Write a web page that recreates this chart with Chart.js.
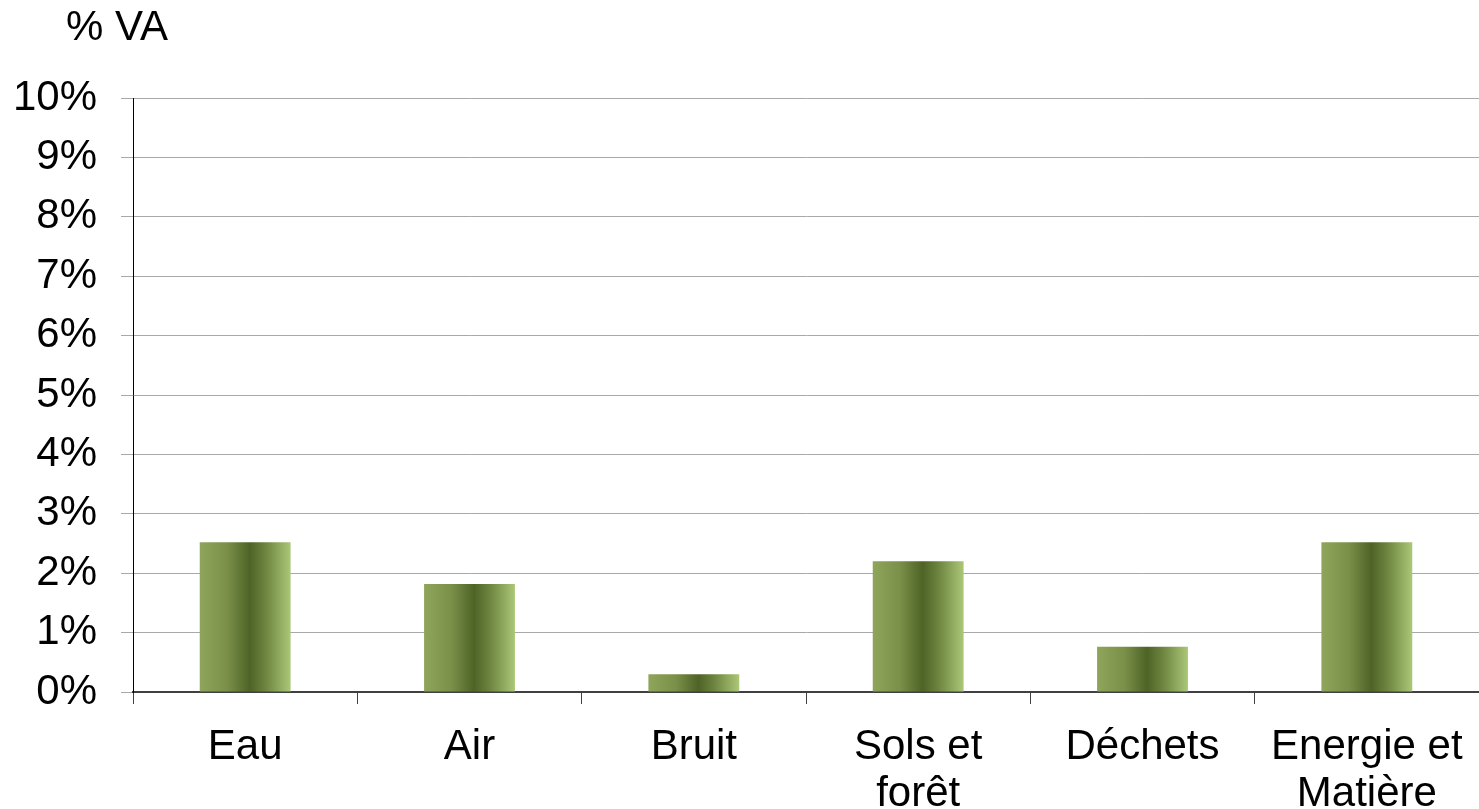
<!DOCTYPE html>
<html>
<head>
<meta charset="utf-8">
<script src="https://cdn.jsdelivr.net/npm/chart.js@4/dist/chart.umd.min.js"></script>
<style>
  html, body { margin: 0; padding: 0; background: #ffffff; }
  #wrap { width: 1479px; height: 809px; }
</style>
</head>
<body>
<div id="wrap"><canvas id="chart"></canvas></div>
<script>
// === DONNEES ===
const categories = ["Eau", "Air", "Bruit", ["Sols et", "forêt"], "Déchets", ["Energie et", "Matière"]];
const valeurs = [2.52, 1.82, 0.30, 2.20, 0.76, 2.52];
const yTicks = [0, 1, 2, 3, 4, 5, 6, 7, 8, 9, 10];
const uniteTitre = "% VA";

const FONT = "'Liberation Sans', Arial, sans-serif";
const BAR_PCT = 0.405;

// degrade horizontal pour chaque barre (clair - fonce - clair)
function barGradient(ctx) {
    const chart = ctx.chart;
    const xs = chart.scales.x;
    if (!xs || !chart.chartArea) return "#6f8640";
    const cx = xs.getPixelForValue(ctx.dataIndex);
    const half = (xs.width / categories.length) * BAR_PCT / 2;
    const g = chart.ctx.createLinearGradient(cx - half, 0, cx + half, 0);
    g.addColorStop(0, "#8fa55b");
    g.addColorStop(0.3, "#7a9049");
    g.addColorStop(0.55, "#4e6326");
    g.addColorStop(0.72, "#6c843f");
    g.addColorStop(1, "#abc777");
    return g;
}

// titre "% VA" en haut a gauche
const titrePlugin = {
    id: "titreVA",
    afterDraw(chart) {
        const c = chart.ctx;
        c.save();
        c.font = "42px " + FONT;
        c.fillStyle = "#000000";
        c.textAlign = "left";
        c.textBaseline = "middle";
        c.fillText(uniteTitre, 66, 28);
        c.restore();
    }
};

new Chart(document.getElementById("chart"), {
    type: "bar",
    data: {
        labels: categories,
        datasets: [{
            data: valeurs,
            backgroundColor: barGradient,
            borderWidth: 0,
            categoryPercentage: 1,
            barPercentage: BAR_PCT
        }]
    },
    options: {
        responsive: true,
        maintainAspectRatio: false,
        animation: false,
        layout: { padding: { top: 98, right: 0, left: 0, bottom: 0 } },
        plugins: { legend: { display: false }, tooltip: { enabled: false } },
        scales: {
            x: {
                grid: { offset: true, drawOnChartArea: false, drawTicks: true, tickLength: 12, color: "#404040" },
                border: { color: "#404040", width: 2 },
                ticks: { color: "#000000", font: { family: FONT, size: 42, lineHeight: 1.12 }, padding: 20, maxRotation: 0, autoSkip: false },
                afterFit(scale) {
                    scale.height = 117;
                    scale.paddingLeft = 0;
                    scale.paddingRight = 0;
                }
            },
            y: {
                min: 0,
                max: 10,
                afterBuildTicks(scale) { scale.ticks = yTicks.map(v => ({ value: v })); },
                grid: { color: "#a8a8a8", lineWidth: 1, drawTicks: true, tickLength: 12 },
                border: { color: "#000000", width: 1 },
                ticks: {
                    color: "#000000",
                    font: { family: FONT, size: 42 },
                    padding: 24,
                    callback: v => v + "%"
                },
                afterFit(scale) {
                    scale.width = 133;
                    scale.paddingTop = 0;
                    scale.paddingBottom = 0;
                }
            }
        }
    },
    plugins: [titrePlugin]
});
</script>
</body>
</html>
